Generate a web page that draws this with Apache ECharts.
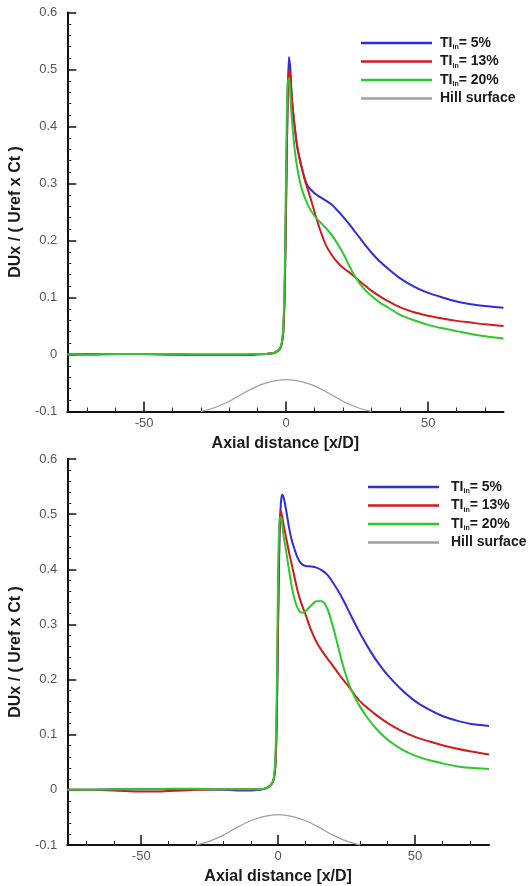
<!DOCTYPE html>
<html>
<head>
<meta charset="utf-8">
<script src="https://cdn.jsdelivr.net/npm/echarts@6/dist/echarts.min.js"></script>
<style>html,body{margin:0;padding:0;background:#fff}#c{width:530px;height:886px}</style>
</head>
<body>
<div id="c"></div>
<script>
// ---------- data ----------
const seriesNames = ['TI_in= 5%', 'TI_in= 13%', 'TI_in= 20%', 'Hill surface'];
const seriesColors = ['#2f2fd8', '#d01c1c', '#2ec82e', '#a0a0a0'];
const xMajorTicks = [-50, 0, 50];
const xMinorTicks = [-70, -60, -40, -30, -20, -10, 10, 20, 30, 40, 60, 70];

// top panel
const topX = [-77, -70, -60, -50, -40, -30, -20, -15, -10, -7,
  -5, -4, -3, -2, -1.5, -1, -0.5, 0, 0.5, 1,
  1.5, 2, 3, 4, 5, 6, 7, 8, 10, 12,
  14, 16, 18, 20, 22, 24, 26, 28, 30, 33,
  36, 40, 45, 50, 55, 60, 65, 70, 76.5];
const topTI5 = [0, 0, 0.001, 0.001, 0, -0.001, -0.001, -0.001, 0, 0.001,
  0.002, 0.003, 0.006, 0.012, 0.02, 0.04, 0.11, 0.27, 0.44, 0.522,
  0.50, 0.45, 0.40, 0.362, 0.338, 0.318, 0.302, 0.293, 0.283, 0.276,
  0.27, 0.263, 0.253, 0.242, 0.23, 0.217, 0.204, 0.191, 0.179, 0.163,
  0.15, 0.134, 0.119, 0.108, 0.1, 0.093, 0.088, 0.085, 0.082];
const topTI13 = [0, 0.001, 0.001, 0.001, 0, 0, 0, 0, 0.001, 0.001,
  0.002, 0.003, 0.006, 0.012, 0.02, 0.04, 0.11, 0.27, 0.43, 0.50,
  0.485, 0.45, 0.40, 0.362, 0.338, 0.318, 0.299, 0.284, 0.25, 0.218,
  0.192, 0.175, 0.162, 0.152, 0.145, 0.137, 0.128, 0.12, 0.112, 0.102,
  0.093, 0.083, 0.074, 0.068, 0.063, 0.059, 0.056, 0.053, 0.05];
const topTI20 = [0, 0, 0.001, 0.001, 0.001, 0, 0, 0, 0.001, 0.001,
  0.002, 0.003, 0.006, 0.013, 0.022, 0.05, 0.14, 0.33, 0.475, 0.485,
  0.455, 0.415, 0.36, 0.325, 0.30, 0.283, 0.27, 0.259, 0.243, 0.232,
  0.222, 0.21, 0.195, 0.178, 0.158, 0.139, 0.124, 0.112, 0.103, 0.091,
  0.082, 0.07, 0.06, 0.052, 0.046, 0.041, 0.036, 0.032, 0.028];

// bottom panel
const botX = [-77, -70, -60, -50, -45, -40, -30, -20, -15, -10,
  -7, -5, -4, -3, -2, -1.5, -1, -0.5, 0, 0.5,
  1, 1.5, 2, 3, 4, 5, 6, 7, 8, 9,
  10, 12, 14, 16, 18, 20, 22, 24, 26, 28,
  30, 33, 36, 40, 45, 50, 55, 60, 65, 70,
  77];
const botTI5 = [0, 0, 0.001, 0.001, 0.001, 0.001, 0.001, 0, -0.001, -0.001,
  0, 0.002, 0.004, 0.007, 0.014, 0.022, 0.045, 0.13, 0.31, 0.46,
  0.52, 0.535, 0.53, 0.505, 0.475, 0.452, 0.436, 0.422, 0.413, 0.408,
  0.406, 0.405, 0.403, 0.398, 0.39, 0.376, 0.36, 0.342, 0.322, 0.302,
  0.283, 0.257, 0.234, 0.208, 0.182, 0.161, 0.146, 0.134, 0.126, 0.12,
  0.116];
const botTI13 = [0, 0, -0.001, -0.003, -0.003, -0.002, 0, 0.001, 0.001, 0.001,
  0.001, 0.002, 0.004, 0.007, 0.014, 0.022, 0.045, 0.13, 0.32, 0.47,
  0.506, 0.495, 0.48, 0.455, 0.43, 0.408, 0.385, 0.363, 0.345, 0.331,
  0.318, 0.29, 0.268, 0.252, 0.238, 0.225, 0.211, 0.198, 0.186, 0.172,
  0.16, 0.147, 0.135, 0.121, 0.107, 0.096, 0.088, 0.081, 0.075, 0.07,
  0.064];
const botTI20 = [0, 0, 0.001, 0.001, 0.001, 0.002, 0.002, 0.001, 0.001, 0.001,
  0.001, 0.002, 0.004, 0.007, 0.014, 0.025, 0.06, 0.18, 0.40, 0.49,
  0.495, 0.48, 0.46, 0.43, 0.398, 0.368, 0.345, 0.331, 0.323, 0.321,
  0.324, 0.334, 0.342, 0.342, 0.328, 0.296, 0.258, 0.22, 0.19, 0.168,
  0.15, 0.128, 0.11, 0.091, 0.074, 0.062, 0.054, 0.048, 0.043, 0.04,
  0.038];

// hill surface
const hillX = [-30, -25, -20, -15, -10, -5, 0, 5, 10, 15, 20, 25, 30];
const topHill = [-0.1, -0.093, -0.082, -0.068, -0.055, -0.047, -0.044, -0.047, -0.055, -0.068, -0.082, -0.093, -0.1];
const botHill = [-0.1, -0.093, -0.082, -0.068, -0.056, -0.048, -0.045, -0.048, -0.056, -0.068, -0.082, -0.093, -0.1];

// ---------- chart ----------
const FONT = '"Liberation Sans", Arial, sans-serif';
const pair = (xs, ys) => xs.map((x, i) => [x, ys[i]]);

function yAxisFor(gi) {
  return {
    gridIndex: gi, type: 'value', min: -0.1, max: 0.6, interval: 0.1,
    axisLine: { show: true, onZero: false, lineStyle: { color: '#111', width: 2 } },
    axisTick: { show: true, inside: true, length: 9, lineStyle: { color: '#111', width: 1.5 } },
    minorTick: { show: true, splitNumber: 5, length: 4, lineStyle: { color: '#333', width: 1 } },
    splitLine: { show: false },
    axisLabel: { margin: 10, color: '#555', fontSize: 13, fontFamily: FONT,
      formatter: v => String(+v.toFixed(1)) },
    name: 'DUx / ( Uref x Ct )', nameLocation: 'middle', nameGap: 33, nameRotate: 90,
    nameTextStyle: { fontWeight: 'bold', fontSize: 16, color: '#1a1a1a', fontFamily: FONT }
  };
}
function xAxesFor(gi, mn, mx) {
  return [{
    gridIndex: gi, type: 'value', min: mn, max: mx, position: 'bottom',
    axisLine: { show: true, onZero: false, lineStyle: { color: '#111', width: 2 } },
    axisTick: { show: true, inside: true, length: 10, customValues: xMajorTicks, lineStyle: { color: '#111', width: 1.5 } },
    axisLabel: { customValues: xMajorTicks, margin: 5, color: '#555', fontSize: 13, fontFamily: FONT },
    splitLine: { show: false },
    name: 'Axial distance [x/D]', nameLocation: 'middle', nameGap: 24,
    nameTextStyle: { fontWeight: 'bold', fontSize: 16, color: '#1a1a1a', fontFamily: FONT }
  }, {
    gridIndex: gi, type: 'value', min: mn, max: mx, position: 'bottom',
    axisLine: { show: false, onZero: false },
    axisTick: { show: true, inside: true, length: 4, customValues: xMinorTicks, lineStyle: { color: '#222', width: 1 } },
    axisLabel: { show: false },
    splitLine: { show: false }
  }];
}
function lineSeries(i, xi, yi, xs, ys) {
  return {
    type: 'line', name: seriesNames[i], xAxisIndex: xi, yAxisIndex: yi,
    data: pair(xs, ys), showSymbol: false, symbol: 'none',
    smooth: 0.3,
    lineStyle: { color: seriesColors[i], width: i === 3 ? 1.3 : 2 },
    itemStyle: { color: seriesColors[i] },
    z: i === 3 ? 1 : 2 + i, animation: false
  };
}
function legendFor(left, top, padLeft) {
  return {
    orient: 'vertical', left: left, top: top, padding: 0,
    icon: 'rect', itemWidth: 71, itemHeight: 2.5, itemGap: 3.5,
    data: seriesNames,
    formatter: name => {
      if (name.indexOf('_in') < 0) return '{p|}{b|' + name + '}';
      const parts = name.split('_in');
      return '{p|}{b|' + parts[0] + '}{s|in}{b|' + parts[1] + '}';
    },
    textStyle: {
      rich: {
        p: { width: padLeft, lineHeight: 16 },
        b: { fontFamily: FONT, fontWeight: 'bold', fontSize: 14, color: '#1a1a1a', lineHeight: 16 },
        s: { fontFamily: FONT, fontWeight: 'bold', fontSize: 7, color: '#1a1a1a', lineHeight: 7, verticalAlign: 'bottom' }
      }
    }
  };
}

const chart = echarts.init(document.getElementById('c'), null, { renderer: 'canvas' });
chart.setOption({
  animation: false,
  backgroundColor: '#fff',
  grid: [
    { left: 64.5, right: 26.5, top: 12.5, height: 399 },
    { left: 62, right: 41, top: 459, height: 388 }
  ],
  xAxis: [...xAxesFor(0, -77, 76.5), ...xAxesFor(1, -77, 77)],
  yAxis: [yAxisFor(0), yAxisFor(1)],
  legend: [legendFor(361, 36, 3), legendFor(368, 480, 7)],
  series: [
    lineSeries(0, 0, 0, topX, topTI5),
    lineSeries(1, 0, 0, topX, topTI13),
    lineSeries(2, 0, 0, topX, topTI20),
    lineSeries(3, 0, 0, hillX, topHill),
    lineSeries(0, 2, 1, botX, botTI5),
    lineSeries(1, 2, 1, botX, botTI13),
    lineSeries(2, 2, 1, botX, botTI20),
    lineSeries(3, 2, 1, hillX, botHill)
  ]
});
</script>
</body>
</html>
